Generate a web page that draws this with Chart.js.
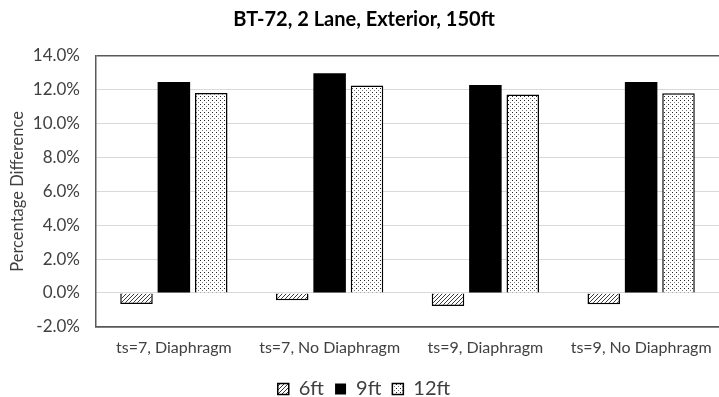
<!DOCTYPE html>
<html>
<head>
<meta charset="utf-8">
<script src="https://cdn.jsdelivr.net/npm/chart.js@4/dist/chart.umd.min.js"></script>
<style>
  html, body { margin: 0; padding: 0; background: #fff; overflow: hidden; }
  #wrap { width: 719px; height: 397px; overflow: hidden; }
</style>
</head>
<body>
<div id="wrap"><canvas id="chart" width="719" height="397"></canvas></div>
<script>
const categories = ["ts=7, Diaphragm", "ts=7, No Diaphragm", "ts=9, Diaphragm", "ts=9, No Diaphragm"]
const seriesNames = ["6ft", "9ft", "12ft"]
const values6ft = [-0.65, -0.43, -0.77, -0.67]
const values9ft = [12.47, 12.98, 12.29, 12.47]
const values12ft = [11.82, 12.25, 11.72, 11.8]
const yTicks = [-2, 0, 2, 4, 6, 8, 10, 12, 14]

const FONT = "Lato, 'Open Sans', sans-serif"
const TEXT = "#404040"

// Diagonal hatch fill
function hatchPattern() {
  const c = document.createElement("canvas")
  c.width = 4
  c.height = 4
  const g = c.getContext("2d")
  g.fillStyle = "#ffffff"
  g.fillRect(0, 0, 4, 4)
  g.strokeStyle = "#3a3a3a"
  g.lineWidth = 1
  g.beginPath()
  g.moveTo(-1, 5)
  g.lineTo(5, -1)
  g.moveTo(-1, 1)
  g.lineTo(1, -1)
  g.moveTo(3, 5)
  g.lineTo(5, 3)
  g.stroke()
  return g.createPattern(c, "repeat")
}

// Sparse dot fill
function dotPattern() {
  const c = document.createElement("canvas")
  c.width = 4
  c.height = 4
  const g = c.getContext("2d")
  g.fillStyle = "#ffffff"
  g.fillRect(0, 0, 4, 4)
  g.fillStyle = "#222222"
  g.fillRect(0, 0, 1, 1)
  g.fillStyle = "#777777"
  g.fillRect(2, 2, 1, 1)
  return g.createPattern(c, "repeat")
}

const ctx = document.getElementById("chart")
new Chart(ctx, {
  type: "bar",
  data: {
    labels: categories,
    datasets: [
      {
        label: seriesNames[0],
        data: values6ft,
        backgroundColor: hatchPattern(),
        borderColor: "#000000",
        borderWidth: 1.5,
      },
      {
        label: seriesNames[1],
        data: values9ft,
        backgroundColor: "#000000",
        borderColor: "#000000",
        borderWidth: 0,
      },
      {
        label: seriesNames[2],
        data: values12ft,
        backgroundColor: dotPattern(),
        borderColor: "#000000",
        borderWidth: 1.5,
      },
    ],
  },
  options: {
    responsive: false,
    animation: false,
    categoryPercentage: 0.72,
    barPercentage: 0.87,
    layout: {
      padding: { left: 0, right: -9, top: 4, bottom: -12 },
    },
    scales: {
      x: {
        grid: { display: false, drawTicks: false },
        border: { color: "#595959", width: 1.5 },
        ticks: {
          color: TEXT,
          font: { family: FONT, size: 16 },
          padding: 11,
          maxRotation: 0,
        },
        // let the last category label run off the right edge
        afterFit: (scale) => {
          scale.paddingLeft = 0
          scale.paddingRight = 0
        },
      },
      y: {
        min: -2,
        max: 14,
        afterBuildTicks: (axis) => {
          axis.ticks = yTicks.map((v) => ({ value: v }))
        },
        afterFit: (scale) => {
          scale.width = 96
        },
        grid: {
          drawTicks: false,
          color: (c) => (c.tick && (c.tick.value === 14 || c.tick.value === -2) ? "#595959" : "#d9d9d9"),
          lineWidth: (c) => (c.tick && (c.tick.value === 14 || c.tick.value === -2) ? 1.5 : 1),
        },
        border: { color: "#595959", width: 1.5 },
        ticks: {
          color: TEXT,
          font: { family: FONT, size: 17 },
          padding: 16,
          callback: (v) => v.toFixed(1) + "%",
        },
        title: {
          display: true,
          text: "Percentage Difference",
          color: TEXT,
          font: { family: FONT, size: 16.5 },
          padding: { top: 8, bottom: 0 },
        },
      },
    },
    plugins: {
      title: {
        display: true,
        text: "BT-72, 2 Lane, Exterior, 150ft",
        color: "#000000",
        font: { family: FONT, size: 20, weight: "bold" },
        padding: { top: 4, bottom: 24 },
      },
      legend: {
        position: "bottom",
        labels: {
          color: TEXT,
          font: { family: FONT, size: 20 },
          boxWidth: 11,
          boxHeight: 11,
          padding: 11,
        },
      },
      tooltip: { enabled: false },
    },
  },
})
</script>
</body>
</html>
